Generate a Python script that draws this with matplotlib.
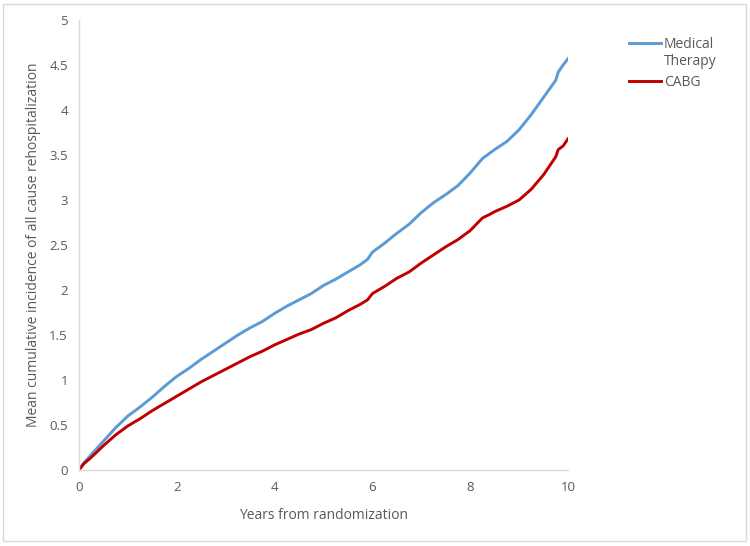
import matplotlib
matplotlib.use("Agg")
import matplotlib.pyplot as plt
from matplotlib.patches import Rectangle

# years from randomization
years = [0, 0.1, 0.25, 0.5, 0.75, 1, 1.25, 1.5, 1.75, 2, 2.25, 2.5, 2.75, 3,
         3.25, 3.5, 3.75, 4, 4.25, 4.5, 4.75, 5, 5.25, 5.5, 5.75, 5.9, 6,
         6.25, 6.5, 6.75, 7, 7.25, 7.5, 7.75, 8, 8.25, 8.4, 8.5, 8.75, 9,
         9.25, 9.5, 9.75, 9.8, 9.9, 10]

medical = [0, 0.08, 0.17, 0.32, 0.47, 0.60, 0.70, 0.81, 0.93, 1.04, 1.13,
           1.23, 1.32, 1.41, 1.50, 1.58, 1.65, 1.74, 1.82, 1.89, 1.96, 2.05,
           2.12, 2.20, 2.28, 2.34, 2.42, 2.52, 2.63, 2.73, 2.86, 2.97, 3.06,
           3.16, 3.30, 3.46, 3.52, 3.56, 3.65, 3.78, 3.95, 4.14, 4.33, 4.42,
           4.50, 4.57]

cabg = [0, 0.07, 0.14, 0.27, 0.39, 0.49, 0.57, 0.66, 0.74, 0.82, 0.90,
        0.98, 1.05, 1.12, 1.19, 1.26, 1.32, 1.39, 1.45, 1.51, 1.56, 1.63,
        1.69, 1.77, 1.84, 1.89, 1.96, 2.04, 2.13, 2.20, 2.30, 2.39, 2.48,
        2.56, 2.66, 2.80, 2.84, 2.87, 2.93, 3.00, 3.12, 3.28, 3.48, 3.56,
        3.60, 3.68]

plt.rcParams["font.family"] = ["Open Sans", "DejaVu Sans"]
gray = "#595959"

fig = plt.figure(figsize=(7.5, 5.46), dpi=100)
ax = fig.add_axes([0.1053, 0.1392, 0.652, 0.8242])

ax.plot(years, medical, color="#5B9BD5", linewidth=2.1, label="Medical")
ax.plot(years, cabg, color="#C00000", linewidth=2.1, label="CABG")

ax.set_xlim(0, 10)
ax.set_ylim(0, 5)
ax.set_xticks([0, 2, 4, 6, 8, 10])
ax.set_yticks([0, 0.5, 1, 1.5, 2, 2.5, 3, 3.5, 4, 4.5, 5])
ax.set_yticklabels(["0", "0.5", "1", "1.5", "2", "2.5", "3", "3.5", "4", "4.5", "5"])
ax.tick_params(length=0, labelsize=9.5, colors=gray, pad=8)

for s in ["top", "right"]:
    ax.spines[s].set_visible(False)
for s in ["left", "bottom"]:
    ax.spines[s].set_color("#D9D9D9")
    ax.spines[s].set_linewidth(1.0)

ax.set_xlabel("Years from randomization", fontsize=10, color=gray, labelpad=10)
ax.set_ylabel("Mean cumulative incidence of all cause rehospitalization",
              fontsize=10, color=gray, labelpad=6)

leg = ax.legend(loc="upper left", bbox_to_anchor=(1.10, 0.991), frameon=False,
                fontsize=10, handlelength=2.3, handletextpad=0.2, labelspacing=1.7)
for t in leg.get_texts():
    t.set_color(gray)

# second line of the "Medical Therapy" legend entry
fig.canvas.draw()
bb = leg.get_texts()[0].get_window_extent()
fig.text(bb.x0 / 750, (bb.y0 - 17) / 546, "Therapy", fontsize=10, color=gray,
         ha="left", va="bottom")

fig.patches.append(Rectangle((0.004, 0.009), 0.99, 0.984, transform=fig.transFigure,
                             fill=False, edgecolor="#D9D9D9", linewidth=1.0))

fig.savefig("out.png", dpi=100)
